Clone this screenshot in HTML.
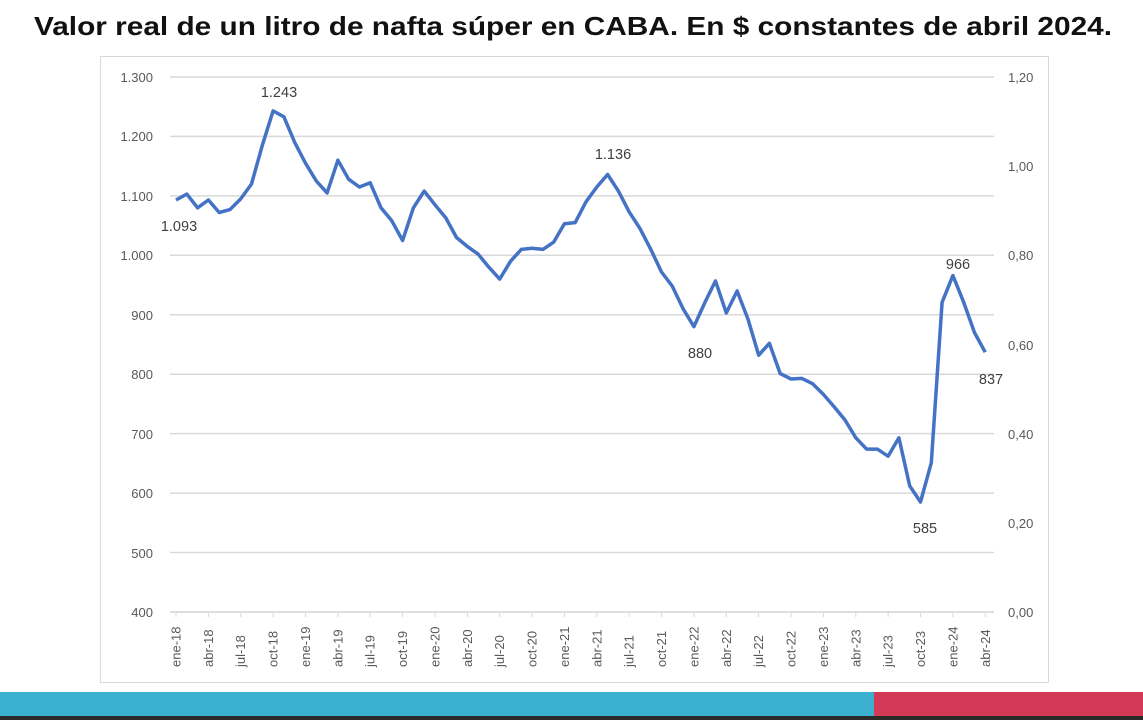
<!DOCTYPE html>
<html><head><meta charset="utf-8"><style>
html,body{margin:0;padding:0;background:#fff;}
body{width:1143px;height:720px;overflow:hidden;position:relative;font-family:"Liberation Sans",sans-serif;}
</style></head><body>
<svg width="1143" height="720" xmlns="http://www.w3.org/2000/svg" style="position:absolute;left:0;top:0">
<text x="573" y="35" text-anchor="middle" font-family="Liberation Sans, sans-serif" font-weight="bold" font-size="26" fill="#111" textLength="1078" lengthAdjust="spacingAndGlyphs">Valor real de un litro de nafta súper en CABA. En $ constantes de abril 2024.</text>
<rect x="100.5" y="56.5" width="948" height="626" fill="#fff" stroke="#d9d9d9" stroke-width="1"/>
<g stroke="#d9d9d9" stroke-width="1.5">
<line x1="170" x2="994" y1="77" y2="77"/><line x1="170" x2="994" y1="136.4" y2="136.4"/>
<line x1="170" x2="994" y1="195.9" y2="195.9"/><line x1="170" x2="994" y1="255.3" y2="255.3"/>
<line x1="170" x2="994" y1="314.8" y2="314.8"/><line x1="170" x2="994" y1="374.2" y2="374.2"/>
<line x1="170" x2="994" y1="433.6" y2="433.6"/><line x1="170" x2="994" y1="493.1" y2="493.1"/>
<line x1="170" x2="994" y1="552.5" y2="552.5"/><line x1="170" x2="994" y1="612" y2="612"/>
</g>
<g font-size="13" fill="#595959" text-anchor="end">
<text x="153" y="82">1.300</text><text x="153" y="141">1.200</text><text x="153" y="201">1.100</text>
<text x="153" y="260">1.000</text><text x="153" y="320">900</text><text x="153" y="379">800</text>
<text x="153" y="439">700</text><text x="153" y="498">600</text><text x="153" y="558">500</text><text x="153" y="617">400</text>
</g>
<g font-size="13" fill="#595959">
<text x="1008" y="82">1,20</text><text x="1008" y="171">1,00</text><text x="1008" y="260">0,80</text>
<text x="1008" y="350">0,60</text><text x="1008" y="439">0,40</text><text x="1008" y="528">0,20</text><text x="1008" y="617">0,00</text>
</g>
<g id="xl" font-size="13" fill="#595959"></g>
<polyline id="ln" fill="none" stroke="#4472c4" stroke-width="3.5" stroke-linejoin="round" points=""/>
<g font-size="14.5" fill="#404040" text-anchor="middle">
<text x="179" y="231">1.093</text><text x="279" y="97">1.243</text><text x="613" y="159">1.136</text>
<text x="700" y="358">880</text><text x="925" y="533">585</text><text x="958" y="269">966</text><text x="991" y="384">837</text>
</g>
<rect x="0" y="692" width="874" height="24" fill="#3cb1cf"/>
<rect x="874" y="692" width="269" height="24" fill="#d23a56"/>
<rect x="0" y="716" width="1143" height="4" fill="#2a2a2a"/>
</svg>
<script>
var v=[1093,1103,1080,1093,1072,1077,1095,1120,1185,1243,1233,1190,1155,1125,1105,1160,1128,1115,1122,1080,1058,1025,1080,1108,1085,1063,1030,1015,1002,980,960,990,1010,1012,1010,1022,1053,1055,1090,1115,1136,1108,1073,1045,1010,972,948,910,880,920,957,903,940,893,832,852,801,792,793,784,766,745,723,693,674,674,662,693,612,585,651,921,966,921,870,837];
function X(i){return 176+10.79*i;}function Y(val){return 77+(1300-val)*0.5944;}
var p=v.map(function(a,i){return X(i).toFixed(1)+","+Y(a).toFixed(1)}).join(" ");
document.getElementById("ln").setAttribute("points",p);
var m=["ene","abr","jul","oct"],g=document.getElementById("xl"),s="";
s+='<line x1="170" x2="994" y1="612" y2="612" stroke="#d9d9d9" stroke-width="1.5"/>';
for(var i=0;i<76;i+=3){var yr=18+Math.floor(i/12);var lb=m[(i%12)/3]+"-"+yr;var x=X(i);
s+='<line x1="'+x+'" x2="'+x+'" y1="612" y2="617" stroke="#d9d9d9"/>';
s+='<text transform="translate('+(x+4.5)+',667) rotate(-90)">'+lb+'</text>';}
g.innerHTML=s;
</script>
</body></html>
